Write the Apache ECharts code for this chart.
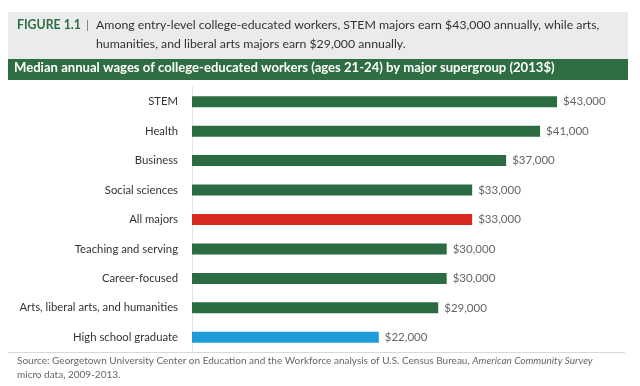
<!DOCTYPE html>
<html><head><meta charset="utf-8">
<script src="https://cdn.jsdelivr.net/npm/echarts@6/dist/echarts.min.js"></script>
<style>html,body{margin:0;padding:0;background:#fff}#c{width:640px;height:386px}</style>
</head><body><div id="c"></div>
<script>
const categories = ["STEM","Health","Business","Social sciences","All majors","Teaching and serving","Career-focused","Arts, liberal arts, and humanities","High school graduate"];
const wages = [43000,41000,37000,33000,33000,30000,30000,29000,22000];
const barColors = ["#2b6c42","#2b6c42","#2b6c42","#2b6c42","#d92a20","#2b6c42","#2b6c42","#2b6c42","#1f9bd7"];
const FONT = "Lato, 'Open Sans', sans-serif";

const chart = echarts.init(document.getElementById('c'), null, {renderer:'canvas'});
chart.setOption({
  animation:false,
  backgroundColor:'#fff',
  grid:{left:192, top:87, height:265, width:424.5, containLabel:false},
  xAxis:{type:'value', min:0, max:50000, show:false},
  yAxis:{type:'category', data:categories, inverse:true,
    axisLine:{show:true, lineStyle:{color:'#e4e4e4', width:1}},
    axisTick:{show:false},
    axisLabel:{color:'#333', fontFamily:FONT, fontSize:11.3, margin:14}},
  series:[{type:'bar', barWidth:11,
    data:wages.map((v,i)=>({value:v, itemStyle:{color:barColors[i]}})),
    label:{show:true, position:'right', distance:6, color:'#666', fontFamily:FONT, fontSize:11.5,
      formatter:p=>'$'+p.value.toLocaleString('en-US')}}],
  graphic:[
    {type:'rect', shape:{x:8,y:12,width:620,height:47}, style:{fill:'#e9ecea'}, silent:true},
    {type:'rect', shape:{x:8,y:59,width:620,height:21}, style:{fill:'#2e6e42'}, silent:true},
    {type:'text', left:17, top:19, style:{text:'FIGURE 1.1', font:'bold 12.3px '+FONT, fill:'#2e6e42'}},
    {type:'text', left:86, top:19, style:{text:'|', font:'12.3px '+FONT, fill:'#777'}},
    {type:'text', left:96, top:19, style:{text:'Among entry-level college-educated workers, STEM majors earn $43,000 annually, while arts,', font:'12.3px '+FONT, fill:'#333'}},
    {type:'text', left:96, top:38, style:{text:'humanities, and liberal arts majors earn $29,000 annually.', font:'12.3px '+FONT, fill:'#333'}},
    {type:'text', left:14, top:61, style:{text:'Median annual wages of college-educated workers (ages 21-24) by major supergroup (2013$)', font:'bold 13.1px '+FONT, fill:'#fff'}},
    {type:'line', shape:{x1:8,y1:352.5,x2:625,y2:352.5}, style:{stroke:'#d8d8d8', lineWidth:1}},
    {type:'text', left:17, top:356, style:{rich:{n:{font:'10px '+FONT, fill:'#666'}, i:{font:'italic 10px '+FONT, fill:'#666'}},
      text:'{n|Source: Georgetown University Center on Education and the Workforce analysis of U.S. Census Bureau, }{i|American Community Survey}'}},
    {type:'text', left:17, top:370, style:{text:'micro data, 2009-2013.', font:'10px '+FONT, fill:'#666'}}
  ]
});
</script></body></html>
